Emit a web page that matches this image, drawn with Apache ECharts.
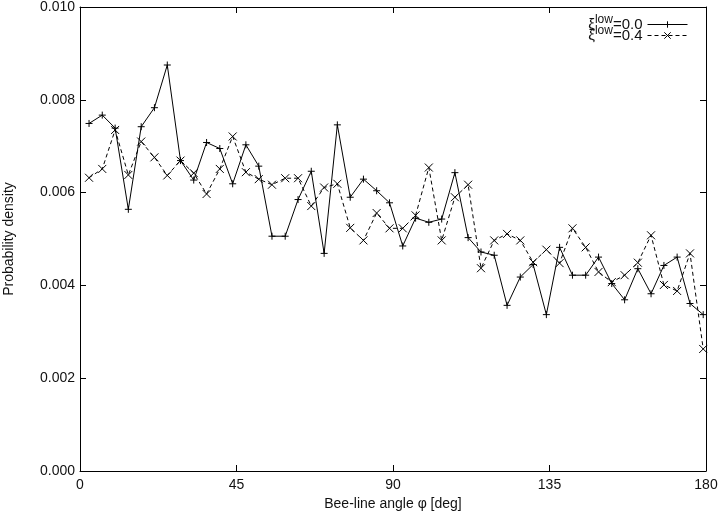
<!DOCTYPE html>
<html>
<head>
<meta charset="utf-8">
<script src="https://cdn.jsdelivr.net/npm/echarts@6/dist/echarts.min.js"></script>
<style>
  html, body { margin: 0; padding: 0; background: #fff; }
  #chart { width: 720px; height: 512px; }
</style>
</head>
<body>
<div id="chart"></div>
<script>
// bee-line angle of each bin centre [deg]
var angles = [2.6, 6.4, 10.1, 13.9, 17.6, 21.4, 25.1, 28.9, 32.7, 36.4,
              40.2, 43.9, 47.7, 51.4, 55.2, 59.0, 62.7, 66.5, 70.2, 74.0,
              77.7, 81.5, 85.3, 89.0, 92.8, 96.5, 100.3, 104.0, 107.8, 111.6,
              115.3, 119.1, 122.8, 126.6, 130.3, 134.1, 137.9, 141.6, 145.4, 149.1,
              152.9, 156.6, 160.4, 164.2, 167.9, 171.7, 175.4, 179.2];
// probability density for xi_low = 0.0
var pdfLow00 = [0.00749, 0.00767, 0.00739, 0.00564, 0.00742, 0.00783, 0.00875, 0.00669, 0.00627, 0.00708,
                0.00695, 0.00619, 0.00703, 0.00657, 0.00506, 0.00506, 0.00585, 0.00646, 0.00469, 0.00746,
                0.00590, 0.00629, 0.00604, 0.00578, 0.00485, 0.00545, 0.00536, 0.00543, 0.00643, 0.00503,
                0.00472, 0.00465, 0.00357, 0.00418, 0.00445, 0.00337, 0.00482, 0.00422, 0.00422, 0.00461,
                0.00404, 0.00369, 0.00436, 0.00382, 0.00443, 0.00461, 0.00361, 0.00337];
// probability density for xi_low = 0.4
var pdfLow04 = [0.00632, 0.00651, 0.00735, 0.00638, 0.00710, 0.00676, 0.00637, 0.00669, 0.00642, 0.00597,
                0.00651, 0.00721, 0.00644, 0.00629, 0.00617, 0.00631, 0.00631, 0.00571, 0.00611, 0.00619,
                0.00524, 0.00497, 0.00556, 0.00523, 0.00523, 0.00551, 0.00654, 0.00497, 0.00590, 0.00617,
                0.00437, 0.00497, 0.00511, 0.00497, 0.00450, 0.00477, 0.00448, 0.00523, 0.00482, 0.00429,
                0.00407, 0.00422, 0.00449, 0.00508, 0.00401, 0.00388, 0.00469, 0.00263];
var xTicks = [0, 45, 90, 135, 180];
var yTicks = [0.000, 0.002, 0.004, 0.006, 0.008, 0.010];

var seriesNames = ['low00', 'low04'];
var legendText = {
    low00: '{g|ξ}{s|low}{n|=0.0}',
    low04: '{g|ξ}{s|low}{n|=0.4}'
};

var plusMark = 'path://M0,4L8,4M4,0L4,8';
var crossMark = 'path://M0,0L8,8M8,0L0,8';
var font = 'Liberation Sans';

function pairs(xs, ys) {
    return xs.map(function (x, i) { return [x, ys[i]]; });
}

var myChart = echarts.init(document.getElementById('chart'));

var axisLine = {show: true, onZero: false, lineStyle: {color: '#000', width: 1}};
var inTick = {show: true, inside: true, length: 6, lineStyle: {color: '#000', width: 1}};

function legendFor(name, top) {
    return {
        data: [name],
        orient: 'vertical',
        align: 'right',
        right: 32,
        top: top,
        itemWidth: 40,
        itemHeight: 8,
        padding: 0,
        lineStyle: {width: 1},
        itemStyle: {borderWidth: 1},
        formatter: function (n) { return legendText[n]; },
        textStyle: {
            color: '#111',
            fontFamily: font,
            rich: {
                g: {fontSize: 15, fontFamily: font, color: '#111'},
                s: {fontSize: 12, fontFamily: font, color: '#111', padding: [0, 0, 9, 0]},
                n: {fontSize: 15, fontFamily: font, color: '#111'}
            }
        }
    };
}

var option = {
    animation: false,
    backgroundColor: '#fff',
    grid: {left: 80, right: 14, top: 7, bottom: 41, outerBoundsMode: 'none'},
    legend: [legendFor('low00', 14), legendFor('low04', 25)],
    xAxis: [{
        type: 'value',
        min: xTicks[0],
        max: xTicks[xTicks.length - 1],
        interval: 45,
        name: 'Bee-line angle φ [deg]',
        nameLocation: 'middle',
        nameGap: 24,
        nameTextStyle: {fontFamily: font, fontSize: 14, color: '#111'},
        axisLine: axisLine,
        axisTick: inTick,
        axisLabel: {fontFamily: font, fontSize: 14, color: '#111', margin: 7},
        splitLine: {show: false}
    }, {
        type: 'value',
        position: 'top',
        min: xTicks[0],
        max: xTicks[xTicks.length - 1],
        interval: 45,
        axisLine: axisLine,
        axisTick: inTick,
        axisLabel: {show: false},
        splitLine: {show: false}
    }],
    yAxis: [{
        type: 'value',
        min: yTicks[0],
        max: yTicks[yTicks.length - 1],
        interval: 0.002,
        name: 'Probability density',
        nameLocation: 'middle',
        nameGap: 64,
        nameTextStyle: {fontFamily: font, fontSize: 14, color: '#111'},
        axisLine: axisLine,
        axisTick: inTick,
        axisLabel: {
            fontFamily: font, fontSize: 14, color: '#111', margin: 5,
            formatter: function (v) { return v.toFixed(3); }
        },
        splitLine: {show: false}
    }, {
        type: 'value',
        position: 'right',
        min: yTicks[0],
        max: yTicks[yTicks.length - 1],
        interval: 0.002,
        axisLine: axisLine,
        axisTick: inTick,
        axisLabel: {show: false},
        splitLine: {show: false}
    }],
    series: [{
        name: seriesNames[0],
        type: 'line',
        data: pairs(angles, pdfLow00),
        symbol: plusMark,
        symbolSize: 7,
        showAllSymbol: true,
        lineStyle: {color: '#000', width: 1, type: 'solid'},
        itemStyle: {color: '#000', borderColor: '#000', borderWidth: 1}
    }, {
        name: seriesNames[1],
        type: 'line',
        data: pairs(angles, pdfLow04),
        symbol: crossMark,
        symbolSize: 8,
        showAllSymbol: true,
        lineStyle: {color: '#000', width: 1, type: [4, 3]},
        itemStyle: {color: '#000', borderColor: '#000', borderWidth: 1}
    }]
};

myChart.setOption(option);
</script>
</body>
</html>
